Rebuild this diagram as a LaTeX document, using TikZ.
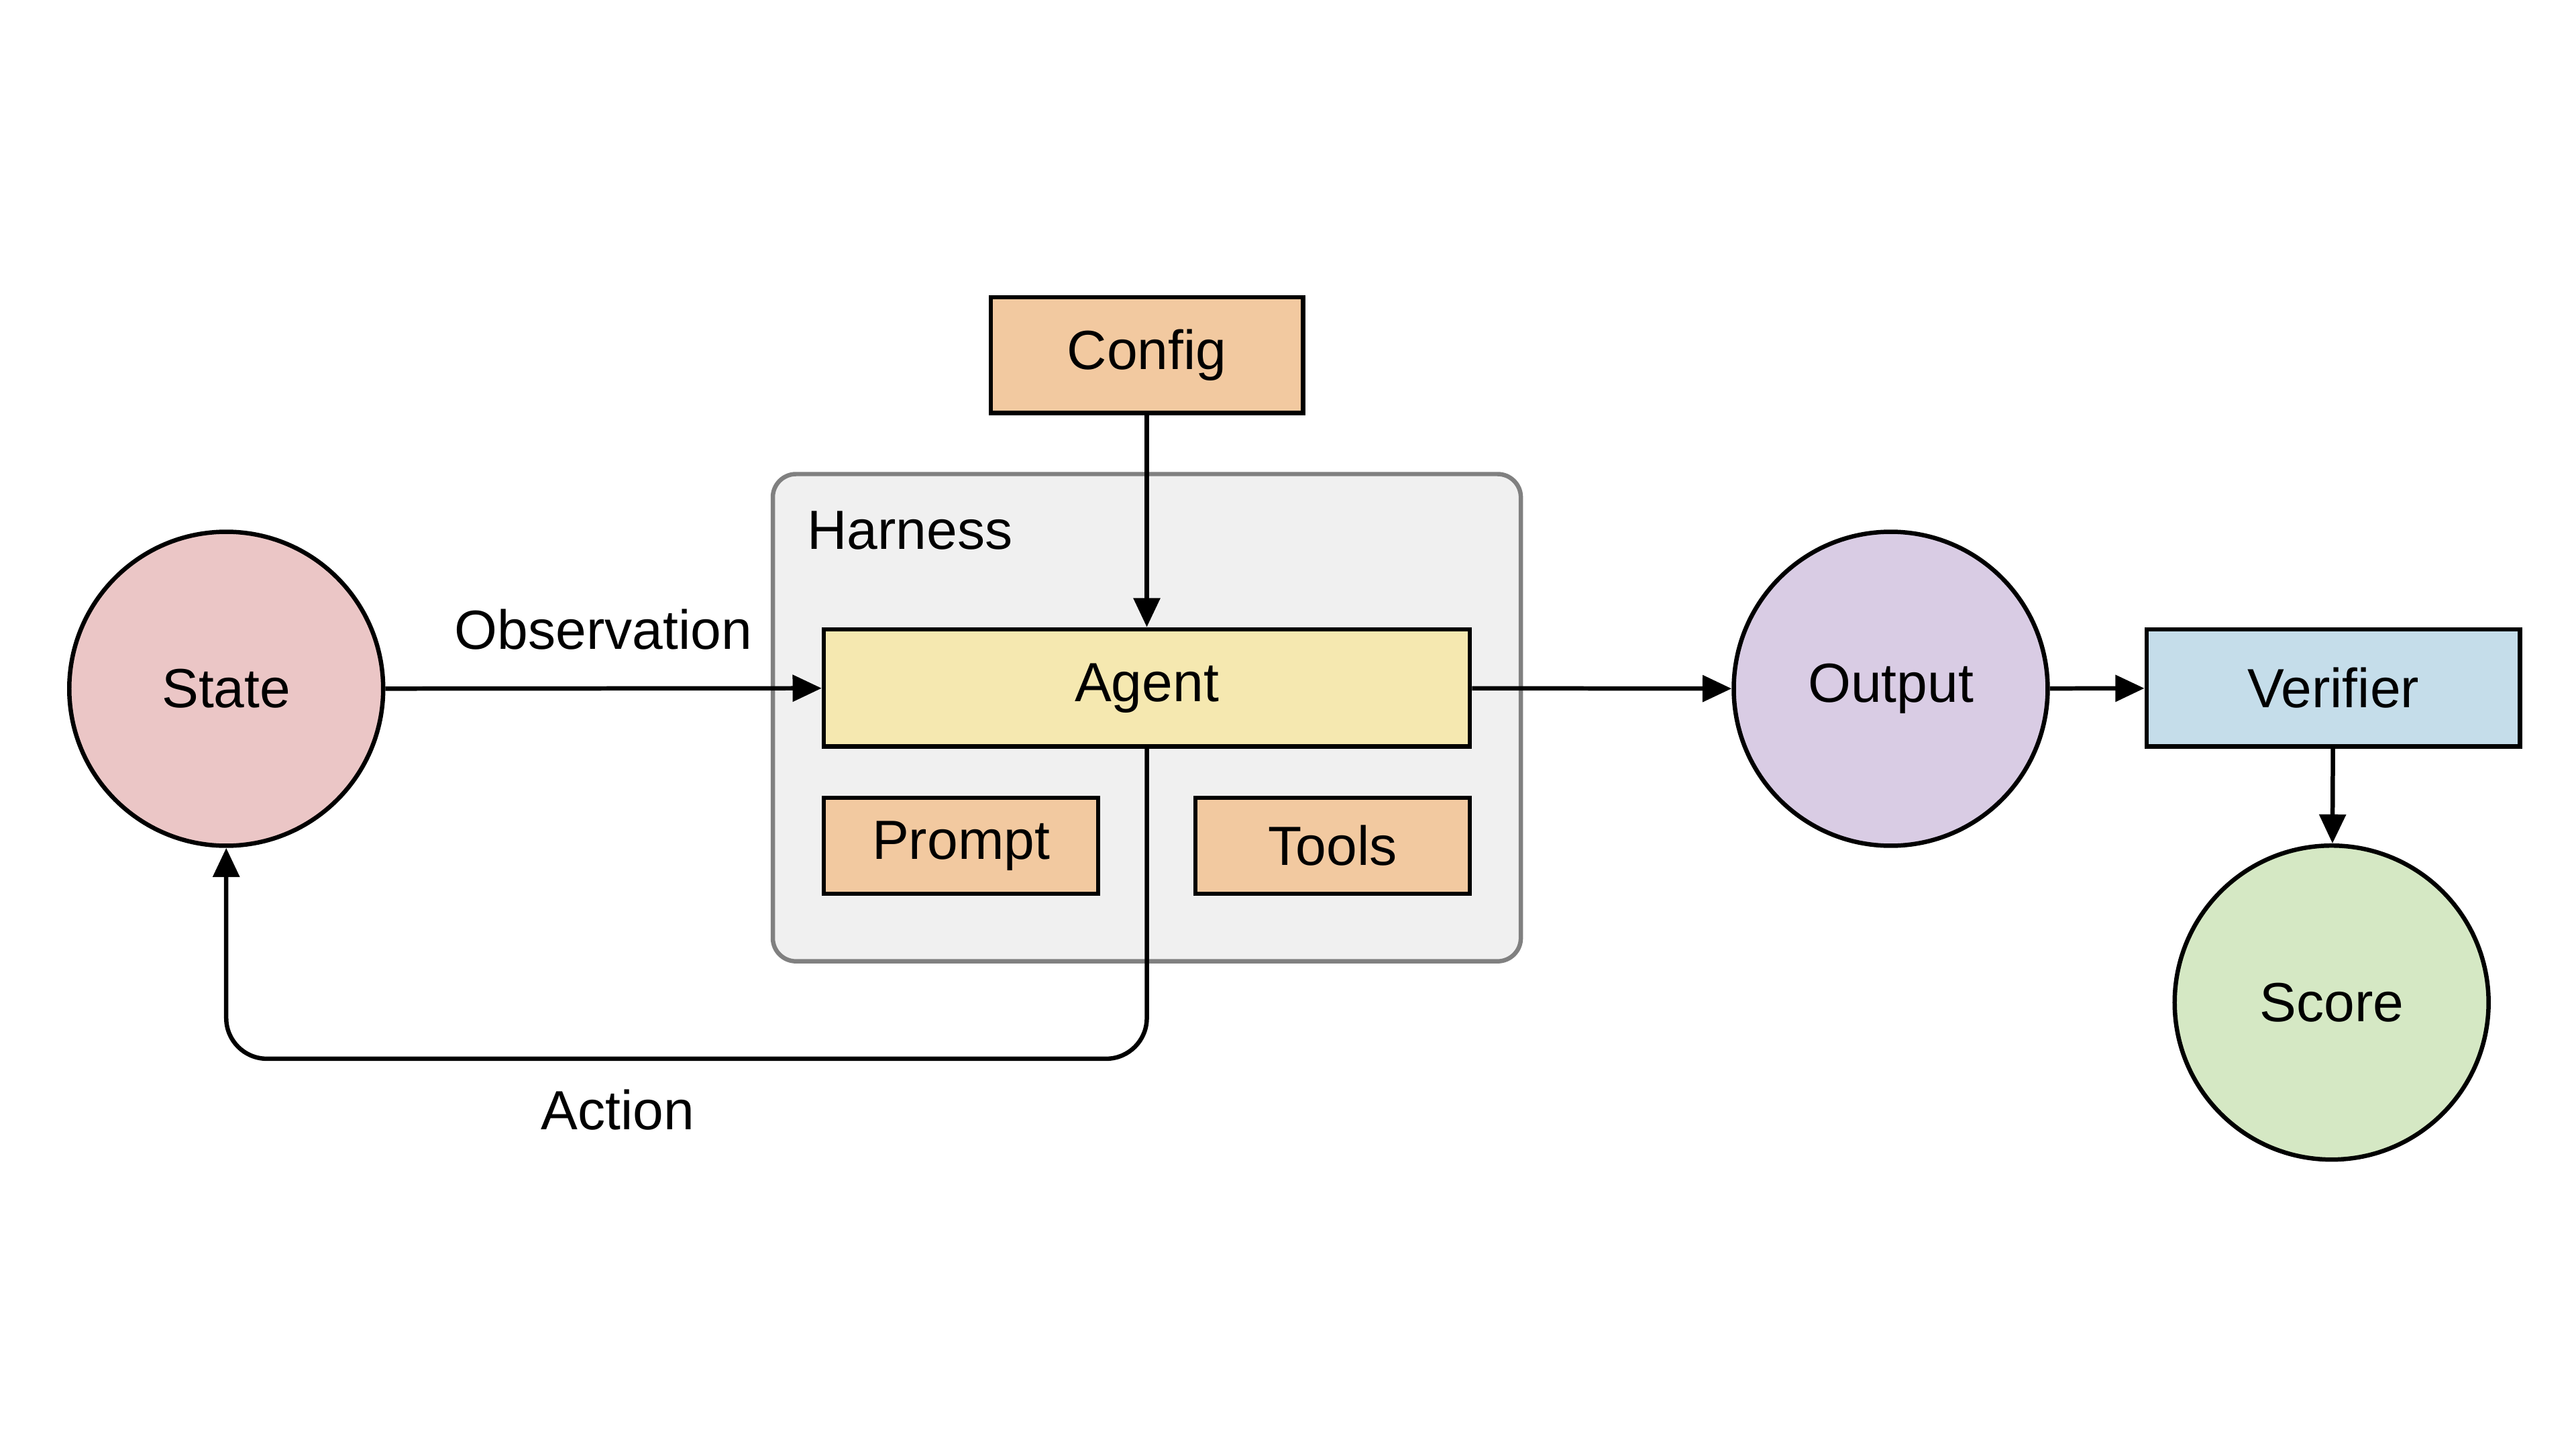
\documentclass[tikz,border=0pt]{standalone}
\usepackage{fontspec}
\setmainfont{Liberation Sans}
\usetikzlibrary{arrows.meta}
\definecolor{cstate}{HTML}{EBC6C6}
\definecolor{cagent}{HTML}{F5E8B0}
\definecolor{cconf}{HTML}{F2C9A0}
\definecolor{cout}{HTML}{D9CCE4}
\definecolor{cver}{HTML}{C5DDEA}
\definecolor{cscore}{HTML}{D5E8C4}
\definecolor{charn}{HTML}{F0F0F0}
\begin{document}
\begin{tikzpicture}[x=0.01cm,y=-0.01cm,
  every node/.style={font=\fontsize{9.5}{11}\selectfont},
  circ/.style={circle,draw,line width=0.75pt,minimum size=1.9cm,inner sep=0pt},
  box/.style={draw,line width=0.75pt,inner sep=0pt},
  arr/.style={line width=0.75pt,-{Triangle[length=5pt,width=4.5pt]}}]
\useasboundingbox (0,0) rectangle (1560,877.5);
\draw[line width=0.75pt,draw=gray,fill=charn,rounded corners=4pt] (468,287) rectangle (921,582);
\node[anchor=center] (harn) at (551,321) {Harness};
\node[circ,fill=cstate] (state) at (137,417) {State};
\node[box,fill=cagent,minimum width=3.91cm,minimum height=0.71cm] (agent) at (694.5,416.5) {Agent};
\node[box,fill=cconf,minimum width=1.89cm,minimum height=0.70cm] (config) at (694.5,215) {Config};
\node[box,fill=cconf,minimum width=1.66cm,minimum height=0.58cm] (prompt) at (582,512) {Prompt};
\node[box,fill=cconf,minimum width=1.66cm,minimum height=0.58cm] (tools) at (807,512) {Tools};
\node[circ,fill=cout] (output) at (1145,417) {Output};
\node[box,fill=cver,minimum width=2.26cm,minimum height=0.71cm] (ver) at (1413,416.5) {Verifier};
\node[circ,fill=cscore] (score) at (1412,607) {Score};
\draw[arr] (state) -- node[above,yshift=3pt] (obs) {Observation} (agent);
\draw[arr] (config) -- (agent);
\draw[arr] (agent) -- (output);
\draw[arr] (output) -- (ver);
\draw[arr] (ver) -- (score);
\coordinate (c1) at (694.5,641);
\coordinate (c2) at (137,641);
\draw[arr,rounded corners=7pt] (agent.south) -- (c1) -- (c2) -- (state.south);
\node (act) at (374,672) {Action};
\end{tikzpicture}
\end{document}
